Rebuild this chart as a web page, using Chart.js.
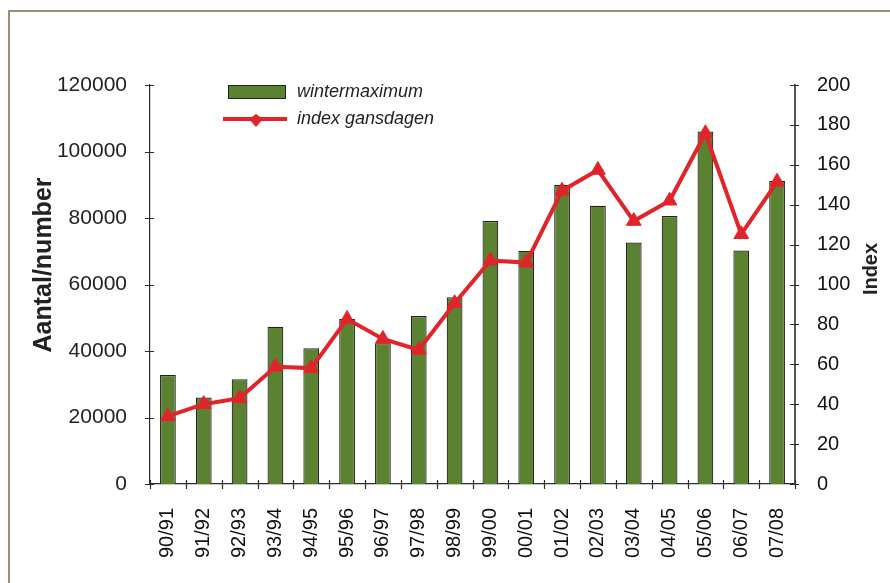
<!DOCTYPE html>
<html>
<head>
<meta charset="utf-8">
<script src="https://cdn.jsdelivr.net/npm/chart.js@4"></script>
<style>
  html, body { margin: 0; padding: 0; background: #fff; }
  #wrap { position: relative; width: 890px; height: 583px; }
</style>
</head>
<body>
<div id="wrap"><canvas id="ganzenChart" width="890" height="583"></canvas></div>
<script>
var seasons = ['90/91', '91/92', '92/93', '93/94', '94/95', '95/96', '96/97', '97/98', '98/99',
               '99/00', '00/01', '01/02', '02/03', '03/04', '04/05', '05/06', '06/07', '07/08'];
var winterMaximum = [32800, 26000, 31500, 47300, 40800, 49700, 42300, 50500, 56200,
                     79100, 70100, 90000, 83700, 72600, 80600, 106000, 70200, 91200];
var indexGansdagen = [34, 40, 43, 58.8, 58.1, 82.7, 72.7, 67.2, 90.6,
                      112, 111, 147, 157.4, 131.8, 142, 175.8, 125.2, 151.5];
var leftTicks = [0, 20000, 40000, 60000, 80000, 100000, 120000];
var rightTicks = [0, 20, 40, 60, 80, 100, 120, 140, 160, 180, 200];

var green = '#5b8230';
var red = '#e1242a';
var axisColor = '#2b2b2b';

// kleine streepjes over de assen, titels en legenda
var extras = {
    id: 'extras',
    beforeDraw: function(chart) {
        var ctx = chart.ctx;
        ctx.save();
        ctx.strokeStyle = '#9c8d78';
        ctx.lineWidth = 2;
        ctx.beginPath();
        ctx.moveTo(9, 583);
        ctx.lineTo(9, 11);
        ctx.lineTo(890, 11);
        ctx.stroke();
        ctx.restore();
    },
    afterDatasetsDraw: function(chart) {
        var ctx = chart.ctx;
        var area = chart.chartArea;
        var yL = chart.scales.y, yR = chart.scales.y1;
        ctx.save();
        ctx.strokeStyle = axisColor;
        ctx.lineWidth = 1.2;
        ctx.beginPath();
        leftTicks.forEach(function(v) {
            var p = Math.round(yL.getPixelForValue(v)) + 0.5;
            ctx.moveTo(area.left - 5, p);
            ctx.lineTo(area.left + 4, p);
        });
        rightTicks.forEach(function(v) {
            var p = Math.round(yR.getPixelForValue(v)) + 0.5;
            ctx.moveTo(area.right - 5, p);
            ctx.lineTo(area.right + 4, p);
        });
        var step = (area.right - area.left) / seasons.length;
        for (var i = 0; i <= seasons.length; i++) {
            var px = Math.round(area.left + i * step) + 0.5;
            ctx.moveTo(px, area.bottom - 4);
            ctx.lineTo(px, area.bottom + 5);
        }
        ctx.stroke();

        // as titels
        ctx.fillStyle = '#222';
        ctx.textAlign = 'center';
        ctx.textBaseline = 'middle';
        ctx.save();
        ctx.translate(44, 265);
        ctx.rotate(-Math.PI / 2);
        ctx.font = 'bold 25px "Liberation Sans", Arial, sans-serif';
        ctx.fillText('Aantal/number', 0, 0);
        ctx.restore();
        ctx.save();
        ctx.translate(871, 269);
        ctx.rotate(-Math.PI / 2);
        ctx.font = 'bold 20px "Liberation Sans", Arial, sans-serif';
        ctx.fillText('Index', 0, 0);
        ctx.restore();

        // legenda
        ctx.fillStyle = green;
        ctx.fillRect(228, 85, 58, 14);
        ctx.strokeStyle = '#222';
        ctx.lineWidth = 1;
        ctx.strokeRect(228.5, 85.5, 57, 13);
        ctx.strokeStyle = red;
        ctx.lineWidth = 4;
        ctx.beginPath();
        ctx.moveTo(223, 119);
        ctx.lineTo(287, 119);
        ctx.stroke();
        ctx.fillStyle = red;
        ctx.beginPath();
        ctx.moveTo(249, 119);
        ctx.lineTo(256, 114);
        ctx.lineTo(263, 119);
        ctx.lineTo(256, 127);
        ctx.closePath();
        ctx.fill();
        ctx.fillStyle = '#222';
        ctx.textAlign = 'left';
        ctx.textBaseline = 'alphabetic';
        ctx.font = 'italic 18px "Liberation Sans", Arial, sans-serif';
        ctx.fillText('wintermaximum', 297, 97);
        ctx.fillText('index gansdagen', 297, 124);
        ctx.restore();
    }
};

var plainNumber = function(value) { return String(value); };

var ctx = document.getElementById('ganzenChart').getContext('2d');
var myChart = new Chart(ctx, {
    type: 'bar',
    data: {
        labels: seasons,
        datasets: [{
            type: 'line',
            label: 'index gansdagen',
            data: indexGansdagen,
            yAxisID: 'y1',
            borderColor: red,
            backgroundColor: red,
            borderWidth: 4,
            pointStyle: 'triangle',
            pointRadius: 8.5,
            pointBackgroundColor: red,
            pointBorderColor: red,
            pointBorderWidth: 1,
            tension: 0,
            order: 1
        }, {
            type: 'bar',
            label: 'wintermaximum',
            data: winterMaximum,
            yAxisID: 'y',
            backgroundColor: green,
            borderColor: '#222',
            borderWidth: 1.2,
            categoryPercentage: 1,
            barPercentage: 0.44,
            order: 2
        }]
    },
    options: {
        responsive: false,
        animation: false,
        layout: {
            padding: { top: 85, left: 0, right: 0, bottom: 0 }
        },
        scales: {
            x: {
                grid: { display: false, offset: true },
                border: { display: true, color: axisColor, width: 1.2 },
                ticks: {
                    color: '#111',
                    font: { family: '"Liberation Sans", Arial, sans-serif', size: 20 },
                    minRotation: 90,
                    maxRotation: 90,
                    padding: 16,
                    autoSkip: false
                },
                afterFit: function(scale) { scale.height = 99; }
            },
            y: {
                position: 'left',
                min: 0,
                max: 120000,
                grid: { display: false },
                border: { display: true, color: axisColor, width: 1.2 },
                ticks: {
                    stepSize: 20000,
                    color: '#222',
                    padding: 15,
                    callback: plainNumber,
                    font: { family: '"Liberation Sans", Arial, sans-serif', size: 21 }
                },
                afterFit: function(scale) { scale.width = 150; }
            },
            y1: {
                position: 'right',
                min: 0,
                max: 200,
                grid: { display: false },
                border: { display: true, color: '#555', width: 2 },
                ticks: {
                    stepSize: 20,
                    color: '#111',
                    padding: 14,
                    callback: plainNumber,
                    font: { family: '"Liberation Sans", Arial, sans-serif', size: 20 }
                },
                afterFit: function(scale) { scale.width = 95; }
            }
        },
        plugins: {
            legend: { display: false },
            tooltip: { enabled: false }
        }
    },
    plugins: [extras]
});
</script>
</body>
</html>
